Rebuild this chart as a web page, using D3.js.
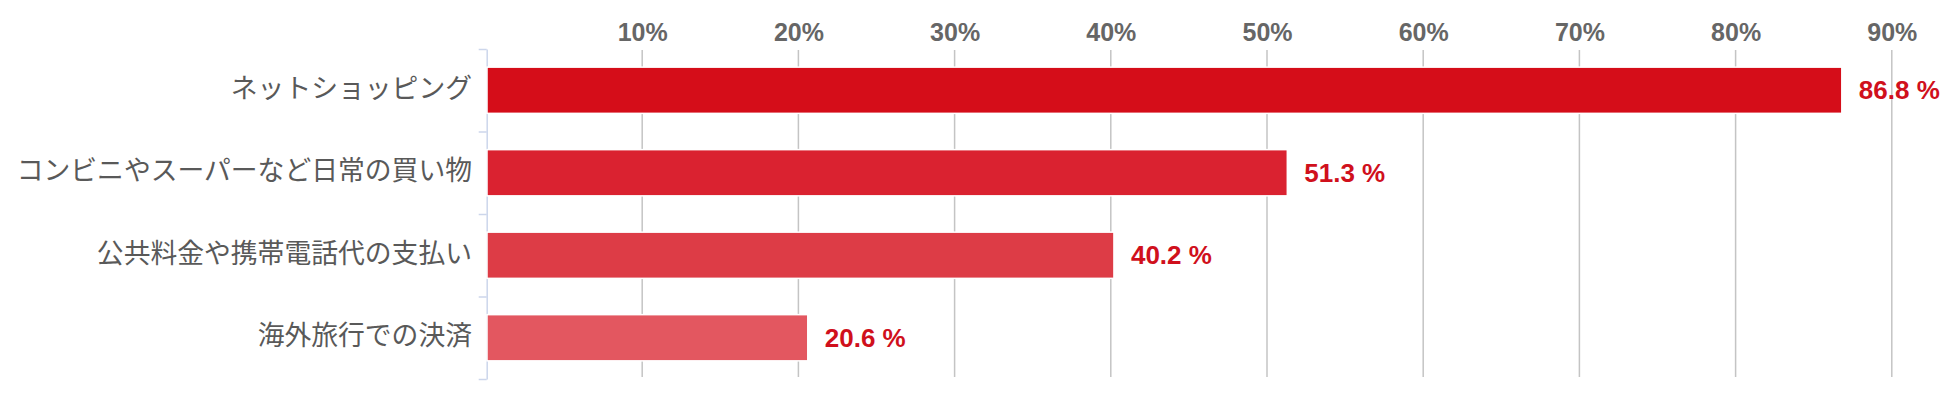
<!DOCTYPE html>
<html>
<head>
<meta charset="utf-8">
<script src="https://cdn.jsdelivr.net/npm/d3@7"></script>
<style>
  body { margin: 0; background: #fff; }
</style>
</head>
<body>
<div id="chart"></div>
<script>
// data
var categories = ["ネットショッピング", "コンビニやスーパーなど日常の買い物", "公共料金や携帯電話代の支払い", "海外旅行での決済"];
var values = [86.8, 51.3, 40.2, 20.6];
var barColors = ["#d50d19", "#da2230", "#dd3c46", "#e35760"];
var tickValues = [10, 20, 30, 40, 50, 60, 70, 80, 90];

//setup
var svgWidth = 1950;
var svgHeight = 396;
var plotTop = 49, plotBottom = 379, plotLeft = 486;

var svg = d3.select("#chart")
    .append("svg")
    .attr("width", svgWidth)
    .attr("height", svgHeight);

// scales
var x = d3.scaleLinear()
    .domain([0, 90])
    .range([plotLeft, plotLeft + 15.62 * 90]);

var y = d3.scaleBand()
    .domain(categories)
    .range([plotTop, plotBottom])
    .paddingInner(0.44)
    .paddingOuter(0.22);

// category boundary ticks
var yEdge = d3.scaleLinear()
    .domain([0, categories.length])
    .range([plotTop, plotBottom]);

// gridlines
svg.append("g")
    .selectAll("line")
    .data(tickValues)
    .enter()
    .append("line")
    .attr("x1", d => x(d))
    .attr("x2", d => x(d))
    .attr("y1", plotTop + 1)
    .attr("y2", plotBottom - 2)
    .attr("stroke", "#c4c4c4")
    .attr("stroke-width", 1.5);

// top axis labels
var xAxis = svg.append("g")
    .attr("transform", "translate(0,41)")
    .call(d3.axisTop(x).tickValues(tickValues).tickSize(0).tickPadding(0).tickFormat(d => d + "%"));
xAxis.select(".domain").remove();
xAxis.selectAll("text")
    .attr("fill", "#666")
    .style("font-family", "'Liberation Sans', Arial, sans-serif")
    .style("font-size", "25px")
    .style("font-weight", "bold")
    .attr("dy", 0);

// left axis line + ticks
var yAxis = svg.append("g")
    .attr("transform", "translate(" + (plotLeft + 0.7) + ",0)")
    .call(d3.axisLeft(yEdge).ticks(categories.length).tickSize(8).tickSizeOuter(0).tickFormat(""));
yAxis.select(".domain").attr("stroke", "#ccd6eb").attr("stroke-width", 1.5);
yAxis.selectAll(".tick line").attr("stroke", "#ccd6eb").attr("stroke-width", 1.5);

// category labels
svg.append("g")
    .selectAll("text")
    .data(categories)
    .enter()
    .append("text")
    .attr("x", 472)
    .attr("y", d => y(d) + y.bandwidth() / 2 - 4)
    .attr("text-anchor", "end")
    .attr("dominant-baseline", "central")
    .attr("fill", "#595959")
    .style("font-family", "'Noto Sans CJK JP', sans-serif")
    .style("font-size", "26.8px")
    .text(d => d);

// bars
svg.append("g")
    .selectAll("rect")
    .data(values)
    .enter()
    .append("rect")
    .attr("x", x(0) + 1)
    .attr("y", (d, i) => y(categories[i]))
    .attr("width", d => x(d) - x(0) - 1)
    .attr("height", y.bandwidth())
    .attr("fill", (d, i) => barColors[i])
    .attr("stroke", "#fff")
    .attr("stroke-width", 1.5);

// value labels
svg.append("g")
    .selectAll("text")
    .data(values)
    .enter()
    .append("text")
    .attr("x", d => x(d) + 17)
    .attr("y", (d, i) => y(categories[i]) + y.bandwidth() / 2 + 9)
    .attr("fill", "#d0101c")
    .style("font-family", "'Liberation Sans', Arial, sans-serif")
    .style("font-size", "26px")
    .style("font-weight", "bold")
    .text(d => d.toFixed(1) + " %");
</script>
</body>
</html>
